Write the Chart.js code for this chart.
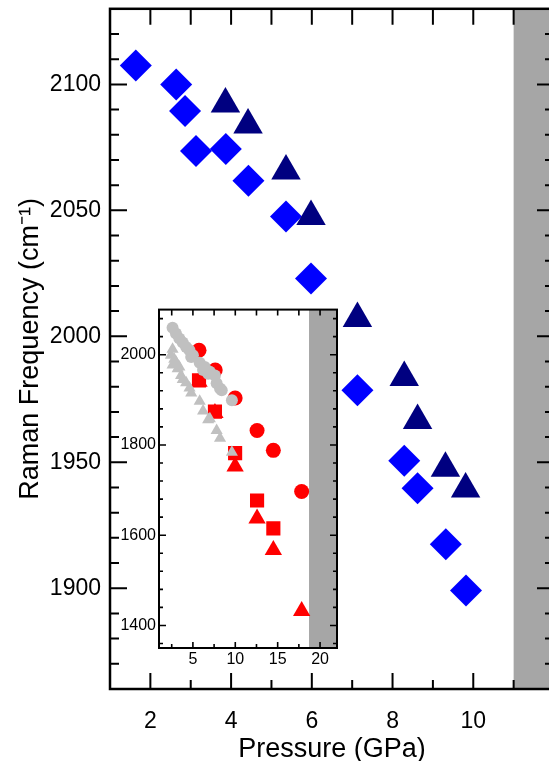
<!DOCTYPE html>
<html>
<head>
<meta charset="utf-8">
<script src="https://cdn.jsdelivr.net/npm/chart.js@4.4.1/dist/chart.umd.min.js"></script>
<style>
  html, body { margin: 0; padding: 0; background: #fff; overflow: hidden; width: 549px; height: 761px; }
  /* le tele sono un po' più grandi: Chart.js riserva mezzo testo di margine attorno all'area */
  #c1 { position: absolute; left: 0; top: -14px; width: 571px; height: 775px; }
  #c2 { position: absolute; left: 112px; top: 297px; width: 235px; height: 378px; }
</style>
</head>
<body>
<canvas id="c1" width="571" height="775"></canvas>
<canvas id="c2" width="235" height="378"></canvas>
<script>
/* Spettri Raman sotto pressione: grafico principale + riquadro (inset). */

// grafico principale
const pressBlue = [1.64, 2.64, 2.86, 3.13, 3.87, 4.43, 5.36, 5.98, 7.13, 8.29, 8.62, 9.32, 9.82];
const freqBlue  = [2107.5, 2100, 2089.4, 2073.6, 2074.3, 2061.7, 2047.6, 2022.9, 1978.6, 1950.6, 1939.7, 1917.5, 1899.1];
const pressNavy = [3.86, 4.42, 5.36, 5.98, 7.13, 8.29, 8.62, 9.31, 9.81];
const freqNavy  = [2092.2, 2083.9, 2065.6, 2047.6, 2007.1, 1983.6, 1966.6, 1947.6, 1939.4];
const mainBand = [11, 12];
const mainXTicks = [2, 4, 6, 8, 10];
const mainYTicks = [1900, 1950, 2000, 2050, 2100];

// inset
const pressGrayC = [2.6, 3.0, 3.4, 3.8, 4.2, 4.6, 4.8, 5.0, 5.8, 6.2, 6.4, 6.8, 7.0, 7.6, 7.8, 8.2, 8.4, 9.6];
const freqGrayC  = [2060, 2047, 2036, 2027, 2017, 2010, 1995, 1999, 1982, 1966, 1973, 1958, 1962, 1954, 1937, 1925, 1921, 1899];
const pressGrayT = [2.4, 2.6, 2.6, 2.8, 3.0, 3.2, 3.4, 3.6, 3.8, 4.2, 4.6, 4.8, 5.8, 6.2, 6.8, 7.0, 7.8, 8.2, 9.6];
const freqGrayT  = [1999, 2012, 1977, 1990, 1984, 1969, 1973, 1954, 1945, 1938, 1926, 1915, 1897, 1875, 1856, 1858, 1832, 1815, 1784];
const pressRedC = [5.72, 7.63, 9.98, 12.57, 14.49, 17.83];
const freqRedC  = [2010, 1966, 1904, 1832, 1788, 1697];
const pressRedS = [5.72, 7.6, 9.98, 12.57, 14.49];
const freqRedS  = [1943, 1874, 1782, 1677, 1615];
const pressRedT = [5.72, 7.6, 9.98, 12.57, 14.49, 17.83];
const freqRedT  = [1940, 1871, 1752, 1637, 1567, 1432];
const insetBand = [18.7, 22];
const insetXTicks = [5, 10, 15, 20];
const insetYTicks = [1400, 1600, 1800, 2000];

const FONT = "'Liberation Sans', Arial, sans-serif";
const xy = (xs, ys) => xs.map((x, i) => ({ x, y: ys[i] }));
const fix = (vals) => (axis) => { axis.ticks = vals.map((value) => ({ value })); };
const plain = (v) => String(v);
const fitH = (h) => (s) => { s.height = h; };
const fitW = (w) => (s) => { s.width = w; };

function ticksOf(min, max, step) {
  const out = [];
  for (let v = Math.ceil(min / step - 1e-9) * step; v <= max + 1e-9; v += step) out.push(v);
  return out;
}
const isMajor = (v, m) => Math.abs(v / m - Math.round(v / m)) < 1e-6;

// banda grigia + cornice con tacche interne su tutti i lati (stile Origin)
const frame = {
  id: 'frame',
  beforeDatasetsDraw(chart, args, o) {
    const { ctx, chartArea: a, scales: { x } } = chart;
    const l = x.getPixelForValue(o.band[0]), r = x.getPixelForValue(o.band[1]);
    ctx.save();
    ctx.fillStyle = '#a6a6a6';
    ctx.fillRect(l, a.top, r - l, a.bottom - a.top);
    ctx.restore();
  },
  afterDatasetsDraw(chart, args, o) {
    const { ctx, chartArea: a, scales: { x, y } } = chart;
    ctx.save();
    ctx.strokeStyle = '#000';
    ctx.lineWidth = o.tickW;
    ctx.beginPath();
    for (const v of ticksOf(x.min, x.max, o.xStep)) {
      const p = x.getPixelForValue(v);
      if (p <= a.left + 1 || p >= a.right - 1) continue;
      const L = isMajor(v, o.xMajor) ? o.big : o.small;
      ctx.moveTo(p, a.bottom); ctx.lineTo(p, a.bottom - L);
      ctx.moveTo(p, a.top); ctx.lineTo(p, a.top + (o.topAll ? o.big : L));
    }
    for (const v of ticksOf(y.min, y.max, o.yStep)) {
      const p = y.getPixelForValue(v);
      if (p <= a.top + 1 || p >= a.bottom - 1) continue;
      const L = isMajor(v, o.yMajor) ? o.big + 1 : o.small;
      ctx.moveTo(a.left, p); ctx.lineTo(a.left + L, p);
      ctx.moveTo(a.right, p); ctx.lineTo(a.right - L, p);
    }
    ctx.stroke();
    ctx.lineWidth = o.frameW;
    ctx.strokeRect(a.left, a.top, a.right - a.left, a.bottom - a.top);
    ctx.restore();
  },
};

function scat(label, data, color, style, r) {
  return { label, data, pointStyle: style, pointRadius: r, backgroundColor: color, borderColor: color, borderWidth: 0 };
}

new Chart(document.getElementById('c1'), {
  type: 'scatter',
  data: { datasets: [
    scat('triangoli', xy(pressNavy, freqNavy), '#000080', 'triangle', 17),
    scat('rombi', xy(pressBlue, freqBlue), '#0000ff', 'rectRot', 16),
  ] },
  options: {
    responsive: false, animation: false, events: [],
    layout: { padding: 0 },
    plugins: {
      legend: { display: false }, tooltip: { enabled: false },
      frame: { band: mainBand, xStep: 1, xMajor: 2, yStep: 10, yMajor: 50, big: 16, small: 9, topAll: true, tickW: 2, frameW: 2.5 },
    },
    scales: {
      x: {
        type: 'linear', min: 1, max: 12, afterBuildTicks: fix(mainXTicks), afterFit: fitH(72),
        grid: { display: false, drawTicks: false }, border: { display: false },
        ticks: { color: '#000', padding: 19, callback: plain, font: { family: FONT, size: 23 } },
        title: { display: true, text: 'Pressure (GPa)', color: '#000', padding: { top: 0, bottom: 0 }, font: { family: FONT, size: 27, lineHeight: 0.85 } },
      },
      y: {
        type: 'linear', min: 1860, max: 2130, afterBuildTicks: fix(mainYTicks), afterFit: fitW(110),
        grid: { display: false, drawTicks: false }, border: { display: false },
        ticks: { color: '#000', padding: 9, callback: plain, font: { family: FONT, size: 23 } },
        title: { display: true, text: 'Raman Frequency (cm\u207B\u00B9)', color: '#000', padding: { top: 17, bottom: 0 }, font: { family: FONT, size: 27, lineHeight: 1 } },
      },
    },
  },
  plugins: [frame],
});

new Chart(document.getElementById('c2'), {
  type: 'scatter',
  data: { datasets: [
    scat('grigi cerchi', xy(pressGrayC, freqGrayC), '#c0c0c0', 'circle', 6),
    scat('grigi triangoli', xy(pressGrayT, freqGrayT), '#c0c0c0', 'triangle', 7),
    scat('rossi cerchi', xy(pressRedC, freqRedC), '#ff0000', 'circle', 7.5),
    scat('rossi quadrati', xy(pressRedS, freqRedS), '#ff0000', 'rect', 10),
    scat('rossi triangoli', xy(pressRedT, freqRedT), '#ff0000', 'triangle', 10),
  ] },
  options: {
    responsive: false, animation: false, events: [],
    layout: { padding: 0 },
    plugins: {
      legend: { display: false }, tooltip: { enabled: false },
      frame: { band: insetBand, xStep: 2.5, xMajor: 5, yStep: 40, yMajor: 200, big: 6, small: 4, topAll: true, tickW: 1.6, frameW: 2 },
    },
    scales: {
      x: {
        type: 'linear', min: 1, max: 22, afterBuildTicks: fix(insetXTicks), afterFit: fitH(27),
        grid: { display: false, drawTicks: false }, border: { display: false },
        ticks: { color: '#000', padding: 2, callback: plain, font: { family: FONT, size: 16 } },
      },
      y: {
        type: 'linear', min: 1350, max: 2100, afterBuildTicks: fix(insetYTicks), afterFit: fitW(47),
        grid: { display: false, drawTicks: false }, border: { display: false },
        ticks: { color: '#000', padding: 3, callback: plain, font: { family: FONT, size: 16 } },
      },
    },
  },
  plugins: [frame],
});
</script>
</body>
</html>
